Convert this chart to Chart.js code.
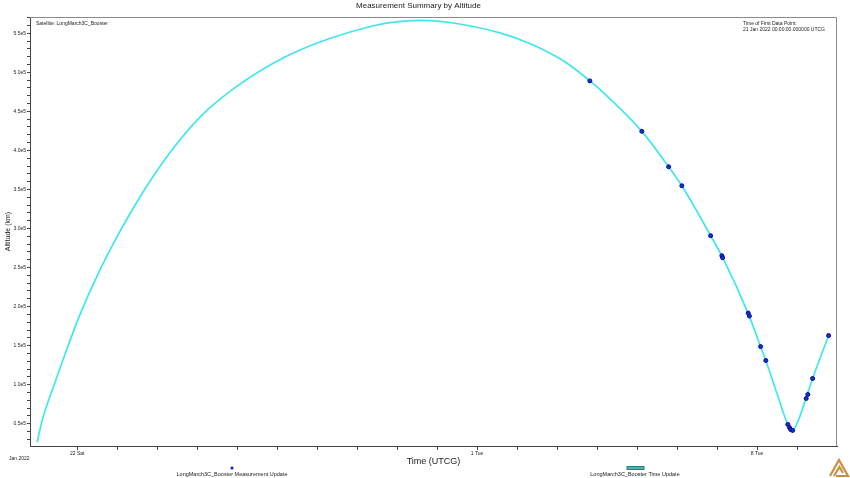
<!DOCTYPE html>
<html><head><meta charset="utf-8">
<script src="https://cdn.jsdelivr.net/npm/chart.js@4.4.1/dist/chart.umd.min.js"></script>
<style>html,body{margin:0;padding:0;background:#fff}#wrap{width:850px;height:478px;position:relative}</style>
</head><body><div id="wrap"><canvas id="c" width="850" height="478"></canvas></div>
<script>
// Days since 21 Jan 2022 00:00 UTCG, altitude in km
const trackDays = [0.00, 0.11, 0.44, 0.77, 1.07, 1.49, 1.89, 2.32, 2.82, 3.49, 4.14, 4.99, 5.89, 6.57, 7.39, 8.24, 8.87, 9.59, 10.32, 11.57, 12.39, 13.24, 13.82, 14.07, 15.12, 15.79, 16.12, 16.84, 17.13, 17.79, 18.09, 18.22, 18.49, 18.77, 18.87, 18.93, 19.07, 19.24, 19.39, 19.79];
const trackAltKm = [26100, 51650, 102200, 149500, 189800, 238400, 279300, 318900, 360500, 408400, 446200, 482000, 511400, 528600, 544600, 557400, 563800, 566500, 563800, 550400, 535200, 512000, 489000, 478100, 424400, 379000, 354700, 290800, 263900, 189800, 148800, 131000, 90000, 49100, 41400, 43300, 59300, 84900, 107900, 162900];
const measDays = [13.82, 15.12, 15.79, 16.12, 16.84, 17.12, 17.14, 17.78, 17.81, 18.09, 18.22, 18.77, 18.81, 18.84, 18.89, 19.23, 19.27, 19.39, 19.79];
const measAltKm = [489000, 424400, 379000, 354700, 290800, 265200, 262600, 191700, 187900, 148800, 131000, 49100, 45300, 42700, 41400, 82300, 87500, 107900, 162900];
const xTickDays = [1,2,3,4,5,6,7,8,9,10,11,12,13,14,15,16,17,18,19];
const xLabelDays = [1, 11, 18];
const xLabelText = ['22 Sat', '1 Tue', '8 Tue'];
const yMinorStep = 10000;
const yMajorStep = 50000;
const seriesNames = ['LongMarch3C_Booster Measurement Update', 'LongMarch3C_Booster Time Update'];

const FONT = "'Liberation Sans', Arial, sans-serif";
const TXT = '#222';

const extras = {
  id: 'extras',
  afterDraw(chart) {
    const {ctx, chartArea: a} = chart;
    ctx.save();
    // top & right frame
    ctx.strokeStyle = '#8a8a8a'; ctx.lineWidth = 1;
    ctx.beginPath();
    ctx.moveTo(a.left, a.top + 0.5); ctx.lineTo(a.right - 0.5, a.top + 0.5); ctx.lineTo(a.right - 0.5, a.bottom);
    ctx.stroke();
    ctx.fillStyle = TXT;
    ctx.font = '5px ' + FONT;
    ctx.textBaseline = 'middle';
    ctx.textAlign = 'left';
    ctx.fillText('Satellite: LongMarch3C_Booster', a.left + 6, a.top + 7);
    ctx.fillText('Time of First Data Point:', 743, a.top + 7);
    ctx.fillText('21 Jan 2022 00:00:00.000000 UTCG', 743, a.top + 13);
    ctx.fillText('Jan 2022', 9, 459);
    // legend
    ctx.font = '5.5px ' + FONT;
    ctx.textAlign = 'center';
    ctx.fillText(seriesNames[0], 232, 474);
    ctx.fillText(seriesNames[1], 635, 474);
    ctx.fillStyle = '#1a1ac8';
    ctx.beginPath(); ctx.arc(232, 468, 1.6, 0, Math.PI * 2); ctx.fill();
    ctx.fillStyle = '#4cb3ad'; ctx.strokeStyle = '#2d7f7b';
    ctx.fillRect(627, 466.5, 17, 3); ctx.strokeRect(627, 466.5, 17, 3);
    // logo
    ctx.strokeStyle = '#c8923c'; ctx.lineWidth = 2.2; ctx.lineJoin = 'miter';
    ctx.beginPath();
    ctx.moveTo(830, 476); ctx.lineTo(839, 460); ctx.lineTo(848, 476); ctx.lineTo(836, 476);
    ctx.stroke();
    ctx.beginPath();
    ctx.moveTo(834, 476); ctx.lineTo(839.5, 467); ctx.lineTo(843, 473);
    ctx.stroke();
    ctx.restore();
  }
};

new Chart(document.getElementById('c'), {
  type: 'scatter',
  data: {
    datasets: [
      {
        label: seriesNames[1],
        data: trackDays.map((d, i) => ({x: d, y: trackAltKm[i]})),
        showLine: true,
        borderColor: '#40e6ee',
        borderWidth: 1.7,
        pointRadius: 0,
        cubicInterpolationMode: 'monotone',
        order: 2
      },
      {
        label: seriesNames[0],
        data: measDays.map((d, i) => ({x: d, y: measAltKm[i]})),
        showLine: false,
        pointStyle: 'circle',
        pointRadius: 2,
        backgroundColor: '#1b2fd6',
        borderColor: '#000a8c',
        borderWidth: 1,
        order: 1
      }
    ]
  },
  options: {
    responsive: false,
    animation: false,
    devicePixelRatio: 1,
    layout: {padding: {left: 0, right: 13, top: 0, bottom: 11}},
    plugins: {
      legend: {display: false},
      tooltip: {enabled: false},
      title: {
        display: true,
        text: 'Measurement Summary by Altitude',
        color: TXT,
        font: {family: FONT, size: 8, weight: 'normal'},
        padding: {top: 0.5, bottom: 6.9}
      }
    },
    scales: {
      x: {
        type: 'linear',
        min: -0.18,
        max: 20.0,
        afterFit(s) { s.height = 21; },
        afterBuildTicks(s) { s.ticks = xTickDays.map(v => ({value: v})); },
        grid: {drawOnChartArea: false, drawTicks: true, tickLength: 4, tickColor: '#444'},
        border: {display: true, color: '#444', width: 1},
        ticks: {
          autoSkip: false, maxRotation: 0, padding: 0.5, color: TXT,
          font: {family: FONT, size: 5},
          callback(v) { const k = xLabelDays.indexOf(v); return k >= 0 ? xLabelText[k] : ''; }
        },
        title: {display: true, text: 'Time (UTCG)', color: TXT, font: {family: FONT, size: 9}, padding: {top: 0, bottom: 0}}
      },
      y: {
        type: 'linear',
        min: 21500,
        max: 570800,
        afterFit(s) { s.width = 30; },
        afterBuildTicks(s) {
          const t = [];
          for (let v = 30000; v <= 570000; v += yMinorStep) t.push({value: v});
          s.ticks = t;
        },
        grid: {drawOnChartArea: false, drawTicks: true, tickLength: 3, tickColor: '#444'},
        border: {display: true, color: '#444', width: 1},
        ticks: {
          autoSkip: false, padding: 1, color: TXT,
          font: {family: FONT, size: 5},
          callback(v) { return v % yMajorStep === 0 ? (v / 1e5).toFixed(1) + 'e5' : ''; }
        },
        title: {display: true, text: 'Altitude (km)', color: TXT, font: {family: FONT, size: 7}, padding: {top: 3.5, bottom: 0}}
      }
    }
  },
  plugins: [extras]
});
</script></body></html>
